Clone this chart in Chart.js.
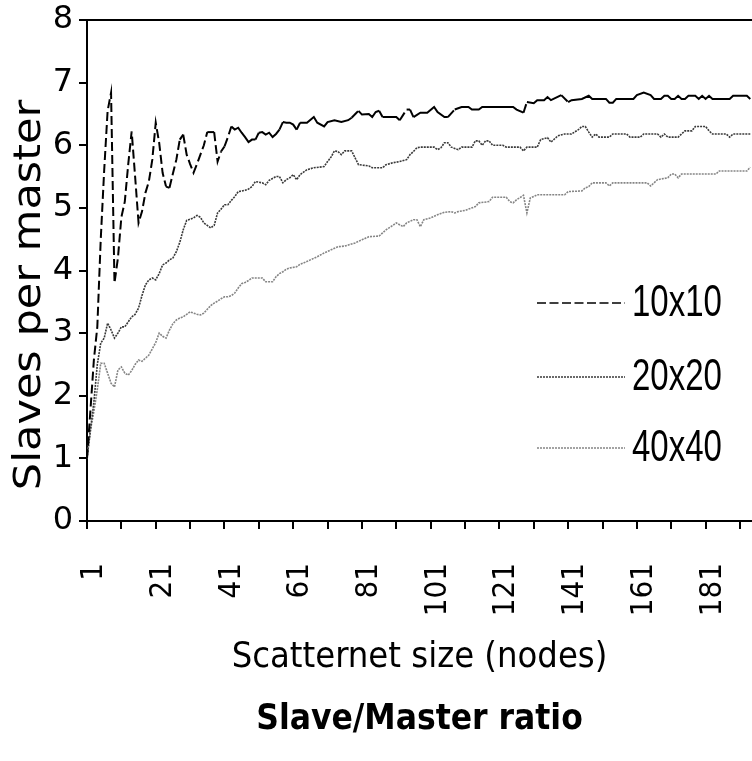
<!DOCTYPE html>
<html>
<head>
<meta charset="utf-8">
<script src="https://cdn.jsdelivr.net/npm/chart.js@4.4.0/dist/chart.umd.min.js"></script>
<style>
  html, body { margin: 0; padding: 0; background: #fff; }
</style>
</head>
<body>
<canvas id="ratioChart" width="752" height="761"></canvas>
<script>
// slave/master ratio per scatternet size

const seriesNames = ['10x10', '20x20', '40x40'];

const tickNodes = [1, 11, 21, 31, 41, 51, 61, 71, 81, 91, 101, 111, 121, 131, 141, 151, 161, 171, 181, 191];
const labelNodes = [1, 21, 41, 61, 81, 101, 121, 141, 161, 181];

// 10x10
const nodes10 = [1, 2, 3, 4, 5, 6, 7, 8, 9, 10, 11, 12, 13, 14, 15, 16, 17, 18, 19, 20,
  21, 22, 23, 24, 25, 26, 27, 28, 29, 30, 31, 32, 33, 34, 35, 36, 37, 38, 39, 40,
  41, 42, 43, 44, 45, 46, 47, 48, 49, 50, 51, 52, 53, 54, 55, 56, 57, 58, 59, 60,
  61, 62, 63, 65, 67, 68, 70, 71, 73, 75, 77, 78, 80, 81, 83, 84, 85, 86, 87,
  91, 92, 94, 95, 96, 98, 100, 102, 103, 105, 106, 108, 110, 112, 113, 115, 116,
  125, 126, 128, 129, 131, 132, 134, 135, 136, 139, 141, 142, 145, 147, 148,
  152, 153, 154, 155, 160, 161, 163, 165, 166, 168, 169, 170, 171, 172, 173, 174,
  175, 176, 178, 179, 180, 181, 182, 183, 188, 189, 193, 194];
const slaves10 = [1.0, 1.77, 2.57, 3.1, 4.5, 5.6, 6.55, 6.84, 3.8, 4.2, 4.85, 5.1, 5.7, 6.22, 5.5, 4.76, 4.94, 5.24, 5.42, 5.77,
  6.36, 6.04, 5.56, 5.34, 5.32, 5.55, 5.77, 6.09, 6.17, 5.85, 5.7, 5.56, 5.7, 5.85, 6.0, 6.21, 6.21, 6.21, 5.74, 5.9,
  5.98, 6.13, 6.3, 6.25, 6.28, 6.2, 6.13, 6.05, 6.09, 6.09, 6.2, 6.21, 6.17, 6.2, 6.13, 6.18, 6.25, 6.37, 6.36, 6.36,
  6.33, 6.25, 6.36, 6.36, 6.45, 6.36, 6.3, 6.37, 6.4, 6.37, 6.4, 6.44, 6.55, 6.49, 6.5, 6.45, 6.53, 6.55, 6.45,
  6.45, 6.4, 6.57, 6.57, 6.45, 6.52, 6.52, 6.61, 6.53, 6.45, 6.45, 6.57, 6.61, 6.61, 6.57, 6.57, 6.61,
  6.61, 6.57, 6.52, 6.69, 6.67, 6.72, 6.72, 6.77, 6.72, 6.8, 6.69, 6.72, 6.74, 6.79, 6.74,
  6.74, 6.68, 6.68, 6.74, 6.74, 6.8, 6.84, 6.8, 6.74, 6.74, 6.79, 6.79, 6.74, 6.74, 6.79, 6.74,
  6.74, 6.79, 6.79, 6.74, 6.79, 6.74, 6.79, 6.74, 6.74, 6.79, 6.79, 6.74];

// 20x20
const nodes20 = [1, 2, 3, 4, 5, 6, 7, 8, 9, 10, 11, 12, 13, 14, 15, 16, 17, 18, 19, 20,
  21, 22, 23, 24, 25, 26, 27, 28, 29, 30, 31, 32, 33, 34, 35, 36, 37, 38, 39, 40,
  41, 42, 43, 44, 45, 46, 47, 48, 49, 50, 51, 52, 53, 54, 55, 56, 57, 58, 59, 60,
  61, 62, 63, 64, 65, 67, 70, 71, 72, 73, 74, 75, 76, 78, 79, 80, 83, 84, 87, 88,
  90, 92, 94, 95, 96, 97, 98, 102, 103, 104, 105, 106, 107, 108, 109, 110, 113, 114,
  115, 116, 117, 118, 119, 122, 123, 127, 128, 129, 132, 133, 135, 136, 138, 140,
  142, 144, 145, 146, 147, 148, 149, 150, 153, 154, 158, 159, 162, 163, 167, 168,
  169, 170, 173, 174, 175, 177, 178, 181, 182, 183, 187, 188, 189, 194];
const slaves20 = [1.0, 1.45, 1.9, 2.5, 2.84, 2.92, 3.16, 3.05, 2.92, 3.0, 3.1, 3.1, 3.18, 3.26, 3.3, 3.4, 3.6, 3.77, 3.85, 3.88,
  3.85, 3.95, 4.09, 4.12, 4.17, 4.2, 4.3, 4.45, 4.65, 4.8, 4.82, 4.84, 4.88, 4.85, 4.76, 4.72, 4.68, 4.72, 4.92, 4.98,
  5.05, 5.05, 5.12, 5.18, 5.26, 5.27, 5.28, 5.3, 5.34, 5.42, 5.41, 5.4, 5.37, 5.44, 5.47, 5.5, 5.5, 5.4, 5.45, 5.48,
  5.53, 5.45, 5.53, 5.57, 5.61, 5.64, 5.66, 5.74, 5.81, 5.91, 5.9, 5.85, 5.91, 5.91, 5.8, 5.69, 5.67, 5.64, 5.64, 5.69,
  5.72, 5.74, 5.77, 5.85, 5.9, 5.96, 5.97, 5.97, 5.93, 5.96, 6.04, 6.04, 5.97, 5.95, 5.93, 5.97, 5.97, 6.07,
  6.07, 6.0, 6.07, 6.07, 6.0, 6.0, 5.97, 5.97, 5.91, 5.97, 5.97, 6.09, 6.12, 6.05, 6.15, 6.18,
  6.18, 6.25, 6.3, 6.3, 6.21, 6.13, 6.18, 6.13, 6.13, 6.18, 6.18, 6.13, 6.13, 6.18, 6.18, 6.13,
  6.18, 6.13, 6.13, 6.18, 6.23, 6.23, 6.3, 6.3, 6.23, 6.18, 6.18, 6.13, 6.18, 6.18];

// 40x40
const nodes40 = [1, 2, 3, 4, 5, 6, 7, 8, 9, 10, 11, 12, 13, 14, 15, 16, 17, 18, 19, 20,
  21, 22, 23, 24, 25, 26, 27, 28, 29, 30, 31, 32, 33, 34, 35, 36, 37, 38, 39, 40,
  41, 42, 43, 44, 45, 46, 47, 48, 49, 52, 53, 55, 56, 57, 58, 59, 60, 62, 63, 64,
  66, 68, 70, 72, 74, 76, 79, 81, 83, 86, 87, 88, 90, 91, 93, 94, 96, 97, 98, 99,
  101, 103, 105, 107, 108, 109, 111, 114, 115, 118, 119, 123, 124, 125, 126, 128, 129, 130, 131, 132,
  140, 141, 145, 146, 147, 148, 152, 153, 154, 164, 165, 166, 167, 170, 171, 172, 173, 174,
  184, 185, 193, 194];
const slaves40 = [1.0, 1.45, 1.75, 2.1, 2.52, 2.52, 2.36, 2.2, 2.14, 2.41, 2.46, 2.36, 2.33, 2.4, 2.5, 2.57, 2.55, 2.6, 2.65, 2.75,
  2.85, 3.0, 2.95, 2.92, 3.05, 3.15, 3.21, 3.24, 3.26, 3.3, 3.34, 3.32, 3.3, 3.29, 3.32, 3.38, 3.44, 3.48, 3.51, 3.55,
  3.58, 3.58, 3.6, 3.64, 3.72, 3.79, 3.81, 3.84, 3.88, 3.88, 3.82, 3.82, 3.9, 3.95, 3.98, 4.02, 4.04, 4.06, 4.1, 4.12,
  4.17, 4.22, 4.28, 4.33, 4.38, 4.39, 4.44, 4.49, 4.54, 4.55, 4.6, 4.65, 4.72, 4.76, 4.7, 4.76, 4.81, 4.81, 4.7, 4.81,
  4.84, 4.89, 4.93, 4.94, 4.92, 4.94, 4.96, 5.02, 5.08, 5.1, 5.17, 5.17, 5.1, 5.08, 5.13, 5.2, 4.92, 5.16, 5.18, 5.21,
  5.21, 5.26, 5.27, 5.32, 5.34, 5.4, 5.4, 5.35, 5.4, 5.4, 5.35, 5.4, 5.45, 5.48, 5.54, 5.54, 5.48, 5.54,
  5.54, 5.59, 5.59, 5.65];

function pairs(xs, ys) {
  return xs.map((x, i) => ({ x: x, y: ys[i] }));
}

const verdanaLike = "'DejaVu Sans', sans-serif";
const condensed = "'DejaVu Sans Condensed', 'DejaVu Sans', sans-serif";
const arialLike = "'Liberation Sans', Arial, sans-serif";

// key rows, offsets from top of plot area
const keyRowY = [283, 357, 428];

const frameAndKey = {
  id: 'frameAndKey',
  afterDatasetsDraw(chart) {
    const ctx = chart.ctx;
    const a = chart.chartArea;
    ctx.save();
    ctx.strokeStyle = '#000';
    ctx.lineWidth = 2;
    ctx.beginPath();
    ctx.moveTo(a.left, a.top);
    ctx.lineTo(a.right, a.top);
    ctx.stroke();

    chart.data.datasets.forEach((ds, i) => {
      const y = a.top + keyRowY[i];
      ctx.strokeStyle = ds.borderColor;
      ctx.lineWidth = ds.keyWidth;
      ctx.setLineDash(ds.keyDash);
      ctx.beginPath();
      ctx.moveTo(a.left + 450, y);
      ctx.lineTo(a.left + 538, y);
      ctx.stroke();
      ctx.setLineDash([]);
      // narrow-looking label text
      ctx.save();
      ctx.translate(a.left + 545, y + 1);
      ctx.scale(0.75, 1);
      ctx.fillStyle = '#000';
      ctx.font = '44px ' + arialLike;
      ctx.textBaseline = 'middle';
      ctx.textAlign = 'left';
      ctx.fillText(ds.label, 0, 0);
      ctx.restore();
    });

    // y axis title, tall and narrow like the original
    ctx.save();
    ctx.translate(31, 295);
    ctx.rotate(-Math.PI / 2);
    ctx.scale(1, 0.85);
    ctx.fillStyle = '#000';
    ctx.font = '43px ' + verdanaLike;
    ctx.textAlign = 'center';
    ctx.textBaseline = 'middle';
    ctx.fillText('Slaves per master', 0, 0);
    ctx.restore();
    ctx.restore();
  }
};

const ctx = document.getElementById('ratioChart').getContext('2d');
const ratioChart = new Chart(ctx, {
  type: 'line',
  data: {
    datasets: [{
      label: seriesNames[0],
      data: pairs(nodes10, slaves10),
      borderColor: '#000',
      borderWidth: 2,
      keyWidth: 1.5,
      keyDash: [9, 3.5],
      pointRadius: 0,
      tension: 0,
      segment: {
        // steep parts look dashed, flat parts solid
        borderDash: c => Math.abs(c.p1.y - c.p0.y) > 6 ? [9, 4] : undefined
      }
    }, {
      label: seriesNames[1],
      data: pairs(nodes20, slaves20),
      borderColor: '#3a3a3a',
      borderWidth: 1.6,
      borderDash: [2, 1],
      keyWidth: 1.3,
      keyDash: [2, 1],
      pointRadius: 0,
      tension: 0
    }, {
      label: seriesNames[2],
      data: pairs(nodes40, slaves40),
      borderColor: '#858585',
      borderWidth: 1.6,
      borderDash: [2, 1],
      keyWidth: 1.3,
      keyDash: [2, 1],
      pointRadius: 0,
      tension: 0
    }]
  },
  options: {
    responsive: false,
    animation: false,
    layout: { padding: { top: 20, right: 0, left: 0, bottom: 0 } },
    plugins: {
      legend: { display: false },
      tooltip: { enabled: false },
      title: {
        display: true,
        position: 'bottom',
        fullSize: false,
        text: 'Slave/Master ratio',
        color: '#000',
        font: { family: condensed, size: 35, weight: 'bold' },
        padding: { top: 20, bottom: 20 }
      }
    },
    scales: {
      x: {
        type: 'linear',
        min: 1,
        max: 194.5,
        afterBuildTicks: s => { s.ticks = tickNodes.map(v => ({ value: v })); },
        afterFit: s => { s.height = 158; s.paddingLeft = 0; s.paddingRight = 0; },
        ticks: {
          autoSkip: false,
          minRotation: 90,
          maxRotation: 90,
          padding: 34,
          labelOffset: 7,
          color: '#000',
          font: { family: condensed, size: 31 },
          callback: v => labelNodes.includes(v) ? String(v) : ''
        },
        grid: { drawOnChartArea: false, drawTicks: true, tickLength: 8, color: '#000', lineWidth: 2 },
        border: { color: '#000', width: 2 },
        title: {
          display: true,
          text: 'Scatternet size (nodes)',
          color: '#000',
          font: { family: condensed, size: 36 },
          padding: { top: 0, bottom: 0 }
        }
      },
      y: {
        min: 0,
        max: 8,
        afterFit: s => { s.width = 87; s.paddingTop = 0; s.paddingBottom = 0; },
        ticks: { stepSize: 1, padding: 6, color: '#000', font: { family: verdanaLike, size: 32 } },
        grid: { drawOnChartArea: false, drawTicks: true, tickLength: 8, color: '#000', lineWidth: 2 },
        border: { color: '#000', width: 2 },
        title: { display: false }
      }
    }
  },
  plugins: [frameAndKey]
});
</script>
</body>
</html>
